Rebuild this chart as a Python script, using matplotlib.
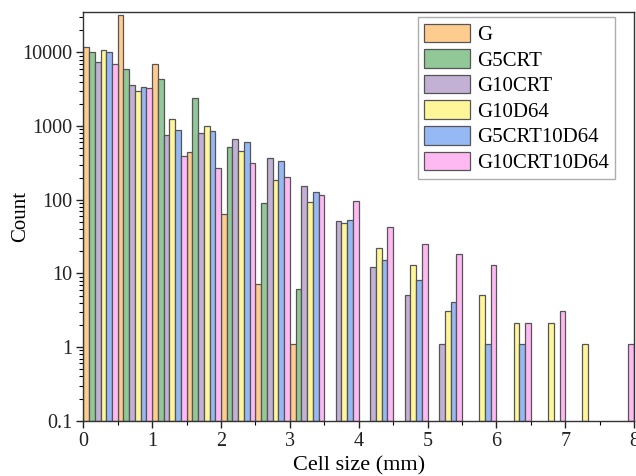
import numpy as np
import matplotlib
matplotlib.use("Agg")
import matplotlib.pyplot as plt
from matplotlib.ticker import LogLocator, FixedLocator, NullFormatter

# ---- data (16 bins of 0.5 mm from 0 to 8 mm) ----
bin_starts = [0.0, 0.5, 1.0, 1.5, 2.0, 2.5, 3.0, 3.5, 4.0, 4.5, 5.0, 5.5, 6.0, 6.5, 7.0, 7.5]
series_names = ["G", "G5CRT", "G10CRT", "G10D64", "G5CRT10D64", "G10CRT10D64"]
G           = [11700, 32000, 6950, 440, 65, 7, 1, 0, 0, 0, 0, 0, 0, 0, 0, 0]
G5CRT       = [10200, 5880, 4300, 2380, 522, 91, 6, 0, 0, 0, 0, 0, 0, 0, 0, 0]
G10CRT      = [7460, 3600, 762, 795, 664, 370, 156, 52, 12, 5, 1, 0, 0, 0, 0, 0]
G10D64      = [10700, 2960, 1244, 990, 456, 185, 93, 49, 22, 13, 3, 5, 2, 2, 1, 0]
G5CRT10D64  = [10300, 3450, 873, 847, 618, 334, 128, 53, 15, 8, 4, 1, 1, 0, 0, 0]
G10CRT10D64 = [6950, 3280, 392, 270, 311, 203, 117, 97, 43, 25, 18, 13, 2, 3, 0, 1]
series_values = [G, G5CRT, G10CRT, G10D64, G5CRT10D64, G10CRT10D64]
colors = ["#FFCC90", "#92C797", "#C2B0D5", "#FFF69A", "#96B8F4", "#FFB9F2"]
x_ticks = [0, 1, 2, 3, 4, 5, 6, 7, 8]
y_ticks = [0.1, 1, 10, 100, 1000, 10000]
y_ticklabels = ["0.1", "1", "10", "100", "1000", "10000"]

plt.rcParams["font.family"] = ["Liberation Serif", "DejaVu Serif"]

fig = plt.figure(figsize=(6.36, 4.76), dpi=100)
ax = fig.add_axes([0.131, 0.116, 0.866, 0.858])

bin_w = 0.5
bar_w = bin_w / len(series_names)
starts = np.array(bin_starts)
for j, (name, vals, c) in enumerate(zip(series_names, series_values, colors)):
    v = np.array(vals, dtype=float)
    m = v > 0
    ax.bar(starts[m] + j * bar_w, v[m], width=bar_w, align="edge", bottom=0.1,
           color=c, edgecolor="#555555", linewidth=0.9, label=name)

ax.set_yscale("log")
ax.set_ylim(0.1, 35000)
ax.set_xlim(0, 8)

ax.xaxis.set_major_locator(FixedLocator(x_ticks))
ax.xaxis.set_minor_locator(FixedLocator([0.5 + i for i in range(8)]))
ax.yaxis.set_major_locator(FixedLocator(y_ticks))
ax.set_yticklabels(y_ticklabels)
ax.yaxis.set_minor_locator(LogLocator(base=10, subs=np.arange(2, 10), numticks=20))
ax.yaxis.set_minor_formatter(NullFormatter())

ax.tick_params(axis="both", which="major", direction="out", length=5, width=1,
               labelsize=14.5, colors="#222222", pad=3)
ax.tick_params(axis="both", which="minor", direction="out", length=3, width=0.8)
for s in ax.spines.values():
    s.set_color("#333333")
    s.set_linewidth(1.0)

ax.set_xlabel("Cell size (mm)", fontsize=16, labelpad=4)
ax.set_ylabel("Count", fontsize=15)
ax.yaxis.set_label_coords(-0.097, 0.5)

leg = ax.legend(loc="upper right", bbox_to_anchor=(0.966, 0.988), fontsize=15,
                frameon=True, fancybox=False, edgecolor="#999999",
                handlelength=2.2, handleheight=1.0, handletextpad=0.35,
                labelspacing=0.2, borderpad=0.3, borderaxespad=0.0)
leg.get_frame().set_linewidth(1.0)

fig.savefig("out.png", dpi=100)
